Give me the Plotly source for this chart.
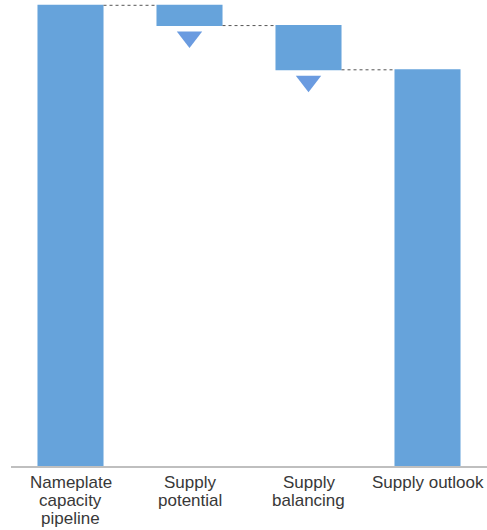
import plotly.graph_objects as go

# data
categories = ["Nameplate<br>capacity<br>pipeline", "Supply<br>potential", "Supply<br>balancing", "Supply outlook"]
values = [100, -4.4, -9.6, 86.0]
measures = ["absolute", "relative", "relative", "total"]

BAR_COLOR = "#66A3DB"
TRI_COLOR = "#6A9BE0"
TEXT_COLOR = "#383838"
FONT = "Liberation Sans, Arial, sans-serif"
GAP = 2.5  # distance of the arrow below a drop

fig = go.Figure()

fig.add_trace(go.Waterfall(
    x=categories, y=values, measure=measures,
    increasing=dict(marker=dict(color=BAR_COLOR)),
    decreasing=dict(marker=dict(color=BAR_COLOR)),
    totals=dict(marker=dict(color=BAR_COLOR)),
    connector=dict(mode="between", line=dict(color="#555555", width=1, dash="dot")),
    textinfo="none", showlegend=False, hoverinfo="skip",
))

# down arrows under each decrease
running = 0
tri_x, tri_y = [], []
for c, v, m in zip(categories, values, measures):
    if m == "absolute" or m == "total":
        running = v
    else:
        running += v
        if v < 0:
            tri_x.append(c)
            tri_y.append(running - GAP)

fig.add_trace(go.Scatter(
    x=tri_x, y=tri_y, mode="markers",
    marker=dict(symbol="triangle-down", size=22, color=TRI_COLOR, line=dict(width=0)),
    showlegend=False, hoverinfo="skip",
))

# category labels, one annotation per line so the line spacing stays tight
for c in categories:
    for i, line in enumerate(c.split("<br>")):
        fig.add_annotation(
            x=c, y=0, xref="x", yref="paper", yanchor="top",
            yshift=-5 - i * 18, text=line, showarrow=False,
            font=dict(family=FONT, size=17, color=TEXT_COLOR),
        )

fig.update_layout(
    width=487, height=530,
    margin=dict(l=11, r=0, t=0, b=63.5),
    plot_bgcolor="white", paper_bgcolor="white",
    waterfallgap=0.445,
    font=dict(family=FONT, size=17, color=TEXT_COLOR),
)
fig.update_xaxes(showline=True, linecolor="#BFBFBF", linewidth=1.5, ticks="",
                 showgrid=False, showticklabels=False)
fig.update_yaxes(visible=False, range=[0, 101.15], showgrid=False, zeroline=False)

# drop the default page margin so the figure fills the window exactly
fig.write_html("out.html", config={"displayModeBar": False},
               post_script="document.body.style.margin='0';document.body.style.overflow='hidden';")
